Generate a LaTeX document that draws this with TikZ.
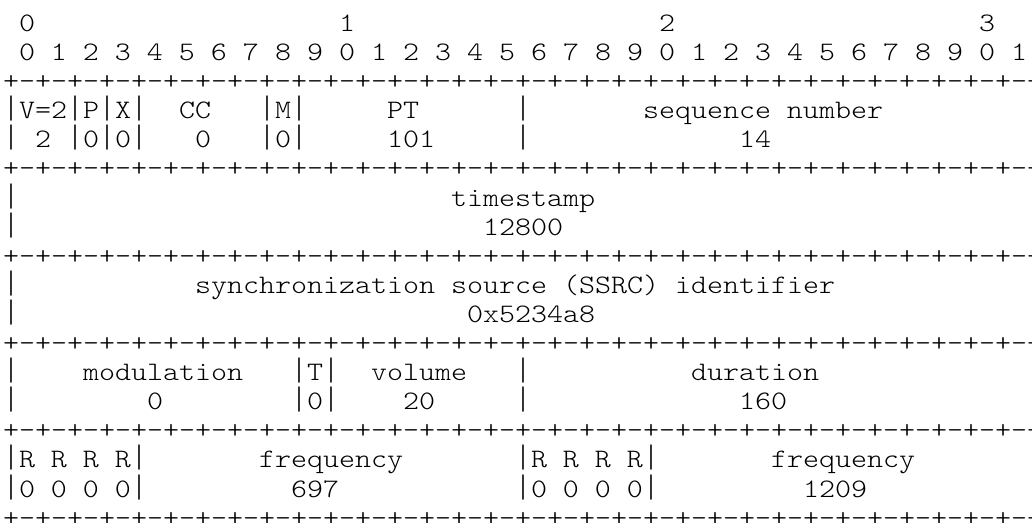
\documentclass[tikz,border=0pt]{standalone}
\usepackage{fontspec}
\usepackage{graphicx}
\newfontfamily\asciifont{lmmonolt10-regular.otf}[FakeStretch=1.143]
\newcommand\fieldbar{\scalebox{1}[1.22]{|}}
\begin{document}
\begin{tikzpicture}[x=12pt, y=-21.825pt,
		every node/.style={anchor=base west, inner sep=0pt, outer sep=0pt,
			font=\asciifont\fontsize{20pt}{24pt}\selectfont}]
	\useasboundingbox[fill=white] (-0.1875,-1.0825) rectangle (64.3125,16.89);
	
	% ================= 比特标尺 =================
	\node (tens0) at (1,0) {0};
	\node (tens1) at (21,0) {1};
	\node (tens2) at (41,0) {2};
	\node (tens3) at (61,0) {3};
	\node (ones) at (1,1) {0 1 2 3 4 5 6 7 8 9 0 1 2 3 4 5 6 7 8 9 0 1 2 3 4 5 6 7 8 9 0 1};
	
	% 分隔线 +-+-
	\foreach \r in {2,5,8,11,14,17}
		\node (rule\r) at (0,\r) {+-+-+-+-+-+-+-+-+-+-+-+-+-+-+-+-+-+-+-+-+-+-+-+-+-+-+-+-+-+-+-+-+};
	
	% 竖线 |
	\foreach \c in {0,4,6,8,16,18,32,64} {
		\node (bar3-\c) at (\c,3) {\fieldbar};
		\node (bar4-\c) at (\c,4) {\fieldbar};
	}
	\foreach \r in {6,7,9,10} {
		\node (bar\r-0) at (0,\r) {\fieldbar};
		\node (bar\r-64) at (64,\r) {\fieldbar};
	}
	\foreach \c in {0,18,20,32,64} {
		\node (bar12-\c) at (\c,12) {\fieldbar};
		\node (bar13-\c) at (\c,13) {\fieldbar};
	}
	\foreach \c in {0,8,32,40,64} {
		\node (bar15-\c) at (\c,15) {\fieldbar};
		\node (bar16-\c) at (\c,16) {\fieldbar};
	}
	
	% ================= RTP 头 =================
	\node (version) at (1,3) {V=2};
	\node (padding) at (5,3) {P};
	\node (extension) at (7,3) {X};
	\node (csrccount) at (11,3) {CC};
	\node (marker) at (17,3) {M};
	\node (ptype) at (24,3) {PT};
	\node (seqnum) at (40,3) {sequence number};
	
	\node (version-val) at (2,4) {2};
	\node (padding-val) at (5,4) {0};
	\node (extension-val) at (7,4) {0};
	\node (csrccount-val) at (12,4) {0};
	\node (marker-val) at (17,4) {0};
	\node (ptype-val) at (24,4) {101};
	\node (seqnum-val) at (46,4) {14};
	
	\node (timestamp) at (28,6) {timestamp};
	\node (timestamp-val) at (30,7) {12800};
	
	\node (ssrc) at (12,9) {synchronization source (SSRC) identifier};
	\node (ssrc-val) at (29,10) {0x5234a8};
	
	% ================= 负载 =================
	\node (modulation) at (5,12) {modulation};
	\node (tonebit) at (19,12) {T};
	\node (volume) at (23,12) {volume};
	\node (duration) at (43,12) {duration};
	
	\node (modulation-val) at (9,13) {0};
	\node (tonebit-val) at (19,13) {0};
	\node (volume-val) at (25,13) {20};
	\node (duration-val) at (46,13) {160};
	
	\node (reserved1) at (1,15) {R R R R};
	\node (freq1) at (16,15) {frequency};
	\node (reserved2) at (33,15) {R R R R};
	\node (freq2) at (48,15) {frequency};
	
	\node (reserved1-val) at (1,16) {0 0 0 0};
	\node (freq1-val) at (18,16) {697};
	\node (reserved2-val) at (33,16) {0 0 0 0};
	\node (freq2-val) at (50,16) {1209};
\end{tikzpicture}
\end{document}
